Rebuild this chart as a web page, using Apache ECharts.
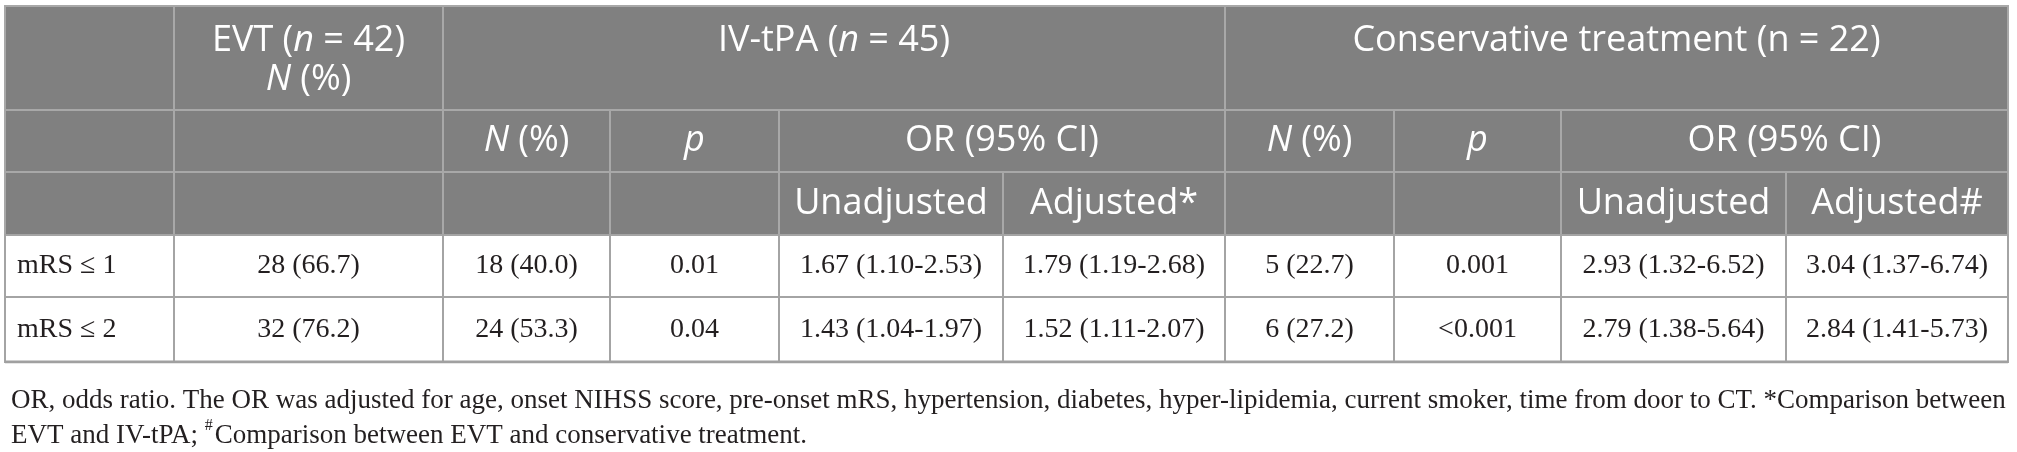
<!DOCTYPE html>
<html>
<head>
<meta charset="utf-8">
<style>
  html, body { margin: 0; padding: 0; background: #fff; }
  #main { width: 2017px; height: 452px; }
</style>
<script src="https://cdn.jsdelivr.net/npm/echarts@6/dist/echarts.min.js"></script>
</head>
<body>
<div id="main"></div>
<script>
// table contents
var groupLabels = ['EVT ({i|n} = 42)\n{i|N} (%)', 'IV-tPA ({i|n} = 45)', 'Conservative treatment (n = 22)'];
var subLabels = ['{i|N} (%)', '{i|p}', 'OR (95% CI)'];
var orLabels = ['Unadjusted', 'Adjusted*', 'Unadjusted', 'Adjusted#'];
var rowLabels = ['mRS \u2264 1', 'mRS \u2264 2'];
var evtN = ['28 (66.7)', '32 (76.2)'];
var ivN = ['18 (40.0)', '24 (53.3)'];
var ivP = ['0.01', '0.04'];
var ivUnadj = ['1.67 (1.10-2.53)', '1.43 (1.04-1.97)'];
var ivAdj = ['1.79 (1.19-2.68)', '1.52 (1.11-2.07)'];
var ctN = ['5 (22.7)', '6 (27.2)'];
var ctP = ['0.001', '<0.001'];
var ctUnadj = ['2.93 (1.32-6.52)', '2.79 (1.38-5.64)'];
var ctAdj = ['3.04 (1.37-6.74)', '2.84 (1.41-5.73)'];
var footLines = [
  'OR, odds ratio. The OR was adjusted for age, onset NIHSS score, pre-onset mRS, hypertension, diabetes, hyper-lipidemia, current smoker, time from door to CT. *Comparison between',
  'EVT and IV-tPA; {sup|#}Comparison between EVT and conservative treatment.'
];

// layout (axis units = pixels inside the grid)
var colEdges = [0, 169, 438, 605, 774, 998, 1220, 1389, 1556, 1781, 2003];
var rowEdges = [0, 104, 166, 229, 291, 356];

var HEAD_BG = '#808080';
var HEAD_LINE = '#a8a8a8';
var BODY_LINE = '#a4a4a4';
var SANS = '"Open Sans", sans-serif';
var SERIF = '"Liberation Serif", serif';
var HEAD_SIZE = 36;

// [c0, c1, r0, r1, text, kind]
var cells = [];
cells.push([0, 1, 0, 1, '', 'head']);
cells.push([1, 2, 0, 1, groupLabels[0], 'headTwo']);
cells.push([2, 6, 0, 1, groupLabels[1], 'headTop']);
cells.push([6, 10, 0, 1, groupLabels[2], 'headTop']);

cells.push([0, 1, 1, 2, '', 'head']);
cells.push([1, 2, 1, 2, '', 'head']);
cells.push([2, 3, 1, 2, subLabels[0], 'head']);
cells.push([3, 4, 1, 2, subLabels[1], 'head']);
cells.push([4, 6, 1, 2, subLabels[2], 'head']);
cells.push([6, 7, 1, 2, subLabels[0], 'head']);
cells.push([7, 8, 1, 2, subLabels[1], 'head']);
cells.push([8, 10, 1, 2, subLabels[2], 'head']);

[0, 1, 2, 3].forEach(function (c) { cells.push([c, c + 1, 2, 3, '', 'head']); });
cells.push([4, 5, 2, 3, orLabels[0], 'head']);
cells.push([5, 6, 2, 3, orLabels[1], 'head']);
[6, 7].forEach(function (c) { cells.push([c, c + 1, 2, 3, '', 'head']); });
cells.push([8, 9, 2, 3, orLabels[2], 'head']);
cells.push([9, 10, 2, 3, orLabels[3], 'head']);

var bodyCols = [rowLabels, evtN, ivN, ivP, ivUnadj, ivAdj, ctN, ctP, ctUnadj, ctAdj];
rowLabels.forEach(function (lab, i) {
  bodyCols.forEach(function (col, c) {
    cells.push([c, c + 1, 3 + i, 4 + i, col[i], c === 0 ? 'bodyLeft' : 'body']);
  });
});

function renderCell(params, api) {
  var d = cells[params.dataIndex];
  var p0 = api.coord([colEdges[d[0]], rowEdges[d[2]]]);
  var p1 = api.coord([colEdges[d[1]], rowEdges[d[3]]]);
  var x = p0[0], y = p0[1], w = p1[0] - p0[0], h = p1[1] - p0[1];
  var head = d[5].indexOf('head') === 0;
  var children = [{
    type: 'rect',
    shape: { x: x, y: y, width: w, height: h },
    style: { fill: head ? HEAD_BG : '#fff', stroke: head ? HEAD_LINE : BODY_LINE, lineWidth: 2 }
  }];
  if (d[4]) {
    var st = {
      text: d[4],
      fill: head ? '#fff' : '#231f20',
      fontFamily: head ? SANS : SERIF,
      fontSize: head ? HEAD_SIZE : 28,
      align: 'center',
      verticalAlign: 'middle',
      x: x + w / 2,
      y: y + h / 2,
      lineHeight: 39,
      rich: {
        i: { fontStyle: 'italic', fontFamily: SANS, fontSize: HEAD_SIZE, fill: '#fff', lineHeight: 39 }
      }
    };
    if (d[5] === 'headTop') {
      st.y = y + 35;
    }
    if (d[5] === 'headTwo') {
      st.y = y + 54;
    }
    if (d[5] === 'bodyLeft') {
      st.align = 'left';
      st.x = x + 12;
    }
    children.push({ type: 'text', style: st });
  }
  return { type: 'group', children: children };
}

var chart = echarts.init(document.getElementById('main'));
chart.setOption({
  animation: false,
  title: {
    left: 6,
    top: 378,
    text: footLines.join('\n'),
    textStyle: {
      fontFamily: SERIF,
      fontSize: 27,
      fontWeight: 'normal',
      color: '#231f20',
      lineHeight: 35,
      rich: {
        sup: { fontFamily: SERIF, fontSize: 16, color: '#231f20', verticalAlign: 'top', lineHeight: 35, padding: [0, 2, 0, 0] }
      }
    }
  },
  grid: { left: 5, top: 6, width: 2003, height: 356 },
  xAxis: { type: 'value', min: 0, max: 2003, show: false },
  yAxis: { type: 'value', min: 0, max: 356, inverse: true, show: false },
  series: [{
    type: 'custom',
    coordinateSystem: 'cartesian2d',
    renderItem: renderCell,
    data: cells.map(function (d, i) { return [colEdges[d[0]], rowEdges[d[2]], i]; }),
    encode: { x: 0, y: 1 },
    silent: true
  }, {
    // heavier bottom rule of the table
    type: 'line',
    data: [[0, 356], [2003, 356]],
    symbol: 'none',
    lineStyle: { color: '#a0a0a0', width: 3 },
    silent: true
  }]
});
</script>
</body>
</html>
